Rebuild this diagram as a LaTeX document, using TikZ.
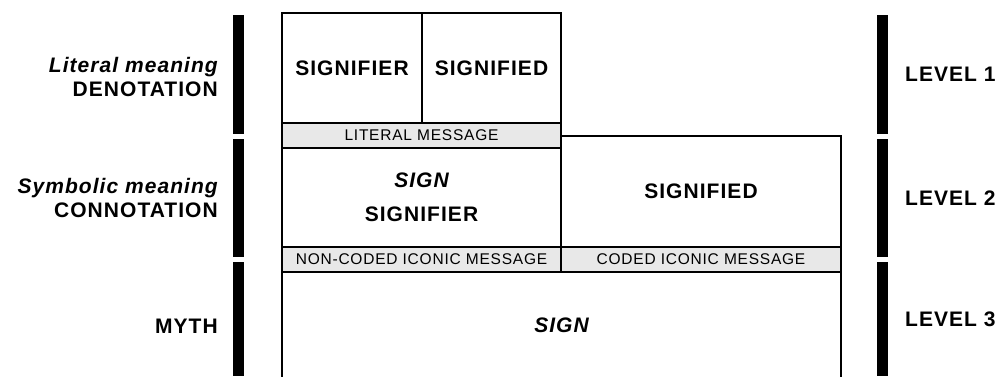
\documentclass[tikz,border=0pt]{standalone}
\usepackage{fontspec}
\setmainfont[LetterSpace=5]{Liberation Sans}
\usetikzlibrary{positioning}

\begin{document}
\begin{tikzpicture}[x=1pt,y=-1pt,
  box/.style={draw,line width=1.5pt,fill=white,inner sep=0pt,outer sep=0pt,anchor=north west,
    font=\bfseries\fontsize{21}{24}\selectfont},
  band/.style={draw,line width=1.5pt,fill=black!9,inner sep=0pt,outer sep=0pt,anchor=north west,
    minimum height=25pt,font=\fontsize{15.5}{18}\selectfont},
  bar/.style={fill=black,inner sep=0pt,outer sep=0pt,minimum width=11pt,anchor=north west},
  lbl/.style={inner sep=0pt,font=\bfseries\fontsize{21}{24}\selectfont}]
\useasboundingbox (0,0) rectangle (1001,376);
\node[bar,minimum height=119pt] (lbar1) at (233,15) {};
\node[bar,minimum height=118pt] (lbar2) at (233,139) {};
\node[bar,minimum height=114pt] (lbar3) at (233,262) {};
\node[bar,minimum height=119pt] (rbar1) at (877,15) {};
\node[bar,minimum height=118pt] (rbar2) at (877,139) {};
\node[bar,minimum height=114pt] (rbar3) at (877,262) {};
\node[lbl,align=right,left=15pt of lbar1,yshift=-2pt] (denot) {\itshape Literal meaning\\DENOTATION};
\node[lbl,align=right,left=15pt of lbar2] (connot) {\itshape Symbolic meaning\\CONNOTATION};
\node[lbl,left=15pt of lbar3,yshift=-7pt] (myth) {MYTH};
\node[lbl,right=17pt of rbar1] (lev1) {LEVEL 1};
\node[lbl,right=17pt of rbar2] (lev2) {LEVEL 2};
\node[lbl,right=17pt of rbar3] (lev3) {LEVEL 3};
\node[box,minimum width=140pt,minimum height=110pt] (sfier1) at (282,13) {SIGNIFIER};
\node[box,minimum width=139pt,minimum height=110pt] (sfied1) at (422,13) {SIGNIFIED};
\node[band,minimum width=279pt] (litmsg) at (282,123) {LITERAL MESSAGE};
\node[box,minimum width=280pt,minimum height=111pt] (sfied2) at (561,136) {SIGNIFIED};
\node[box,minimum width=279pt,minimum height=99pt,align=center] (sign1) at (282,148)
  {\itshape SIGN\\[10pt]SIGNIFIER};
\node[band,minimum width=279pt] (noncoded) at (282,247) {NON-CODED ICONIC MESSAGE};
\node[band,minimum width=280pt] (coded) at (561,247) {CODED ICONIC MESSAGE};
\node[inner sep=0pt,outer sep=0pt,anchor=north west,minimum width=559pt,minimum height=106pt] (mythbox) at (282,272) {};
\draw[line width=1.5pt] (mythbox.south west) |- (mythbox.north east) -- (mythbox.south east);
\node[lbl,font=\bfseries\itshape\fontsize{21}{24}\selectfont] (sign2) at (mythbox.center) {SIGN};
\end{tikzpicture}
\end{document}
